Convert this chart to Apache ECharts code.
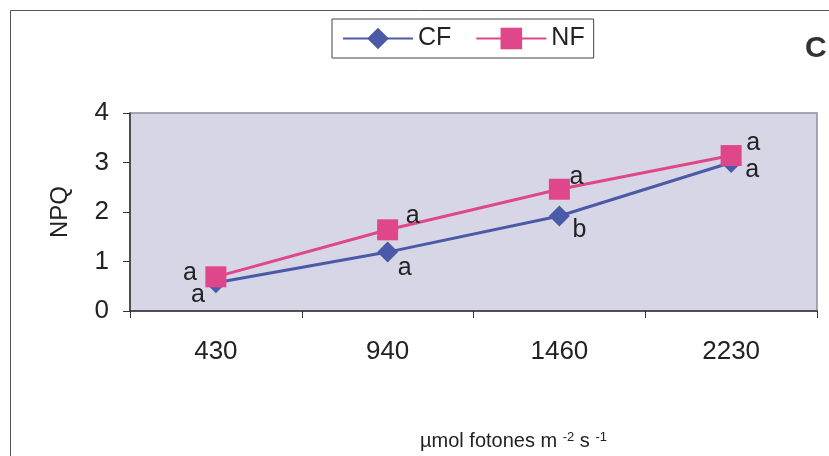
<!DOCTYPE html>
<html>
<head>
<meta charset="utf-8">
<title>NPQ</title>
<script src="https://cdn.jsdelivr.net/npm/echarts@6/dist/echarts.min.js"></script>
<style>
  html, body { margin: 0; padding: 0; background: #ffffff; }
  #chart { width: 829px; height: 456px; }
</style>
</head>
<body>
<div id="chart"></div>
<script>
// Light intensity categories (µmol fotones m-2 s-1)
const categories = ['430', '940', '1460', '2230'];
// NPQ values per treatment
const cfValues = [0.57, 1.19, 1.92, 3.0];
const nfValues = [0.69, 1.64, 2.46, 3.14];
// Significance letters
const cfLetters = ['a', 'a', 'b', 'a'];
const nfLetters = ['a', 'a', 'a', 'a'];
// Y-axis ticks
const yTicks = [0, 1, 2, 3, 4];

const FONT = '"Liberation Sans", Arial, sans-serif';
const CF_COLOR = '#4a5aa6';
const NF_COLOR = '#e0468a';

// Offsets of each letter from its point
const cfOffsets = [[-18, 12], [17, 16], [20, 14], [21, 8]];
const nfOffsets = [[-26, -4], [25, -14], [17, -12], [22, -12]];

function withLetters(values, letters, offsets) {
  return values.map((v, i) => ({
    value: v,
    label: {
      show: true,
      position: 'inside',
      offset: offsets[i],
      formatter: letters[i],
      fontFamily: FONT,
      fontSize: 25,
      color: '#222'
    }
  }));
}

const chart = echarts.init(document.getElementById('chart'), null, { renderer: 'canvas' });

chart.setOption({
  animation: false,
  backgroundColor: '#ffffff',
  textStyle: { fontFamily: FONT },
  graphic: [
    {
      type: 'rect',
      shape: { x: 10.5, y: 10.5, width: 840, height: 460 },
      style: { fill: 'none', stroke: '#555', lineWidth: 1 },
      z: -1
    },
    {
      type: 'text',
      left: 805,
      top: 34,
      style: { text: 'C', font: 'bold 30px ' + FONT, fill: '#333' }
    }
  ],
  legend: {
    left: 332,
    top: 19,
    padding: [7, 9, 7, 10],
    itemWidth: 70,
    itemHeight: 27,
    itemGap: 24,
    borderColor: '#444',
    borderWidth: 1,
    backgroundColor: '#ffffff',
    textStyle: { fontFamily: FONT, fontSize: 25, color: '#222' },
    data: ['CF', 'NF']
  },
  grid: {
    left: 130,
    right: 12,
    top: 113,
    bottom: 145,
    show: true,
    backgroundColor: '#d6d6e6',
    borderColor: '#8e8e9e',
    borderWidth: 1.5
  },
  xAxis: {
    type: 'category',
    data: categories,
    boundaryGap: true,
    axisLine: { lineStyle: { color: '#333', width: 1.5 } },
    axisTick: { show: true, length: 7, lineStyle: { color: '#333' } },
    axisLabel: { fontFamily: FONT, fontSize: 26, color: '#222', margin: 28 },
    splitLine: { show: false },
    name: '{t|µmol fotones m }{s|-2}{t| s }{s|-1}',
    nameLocation: 'middle',
    nameGap: 120,
    nameTextStyle: {
      padding: [0, 0, 0, 80],
      rich: {
        t: { fontFamily: FONT, fontSize: 20, color: '#222', verticalAlign: 'bottom' },
        s: { fontFamily: FONT, fontSize: 13, color: '#222', verticalAlign: 'top' }
      }
    }
  },
  yAxis: {
    type: 'value',
    min: yTicks[0],
    max: yTicks[yTicks.length - 1],
    interval: 1,
    axisLine: { show: true, lineStyle: { color: '#333', width: 1.5 } },
    axisTick: { show: true, length: 7, lineStyle: { color: '#333' } },
    axisLabel: { fontFamily: FONT, fontSize: 26, color: '#222', margin: 21 },
    splitLine: { show: false },
    name: 'NPQ',
    nameLocation: 'middle',
    nameGap: 58,
    nameRotate: 90,
    nameTextStyle: { fontFamily: FONT, fontSize: 24, color: '#222' }
  },
  series: [
    {
      name: 'CF',
      type: 'line',
      data: withLetters(cfValues, cfLetters, cfOffsets),
      symbol: 'diamond',
      symbolSize: 21,
      lineStyle: { color: CF_COLOR, width: 3 },
      itemStyle: { color: CF_COLOR },
      z: 2
    },
    {
      name: 'NF',
      type: 'line',
      data: withLetters(nfValues, nfLetters, nfOffsets),
      symbol: 'rect',
      symbolSize: 21,
      lineStyle: { color: NF_COLOR, width: 3 },
      itemStyle: { color: NF_COLOR },
      z: 3
    }
  ]
});
</script>
</body>
</html>
